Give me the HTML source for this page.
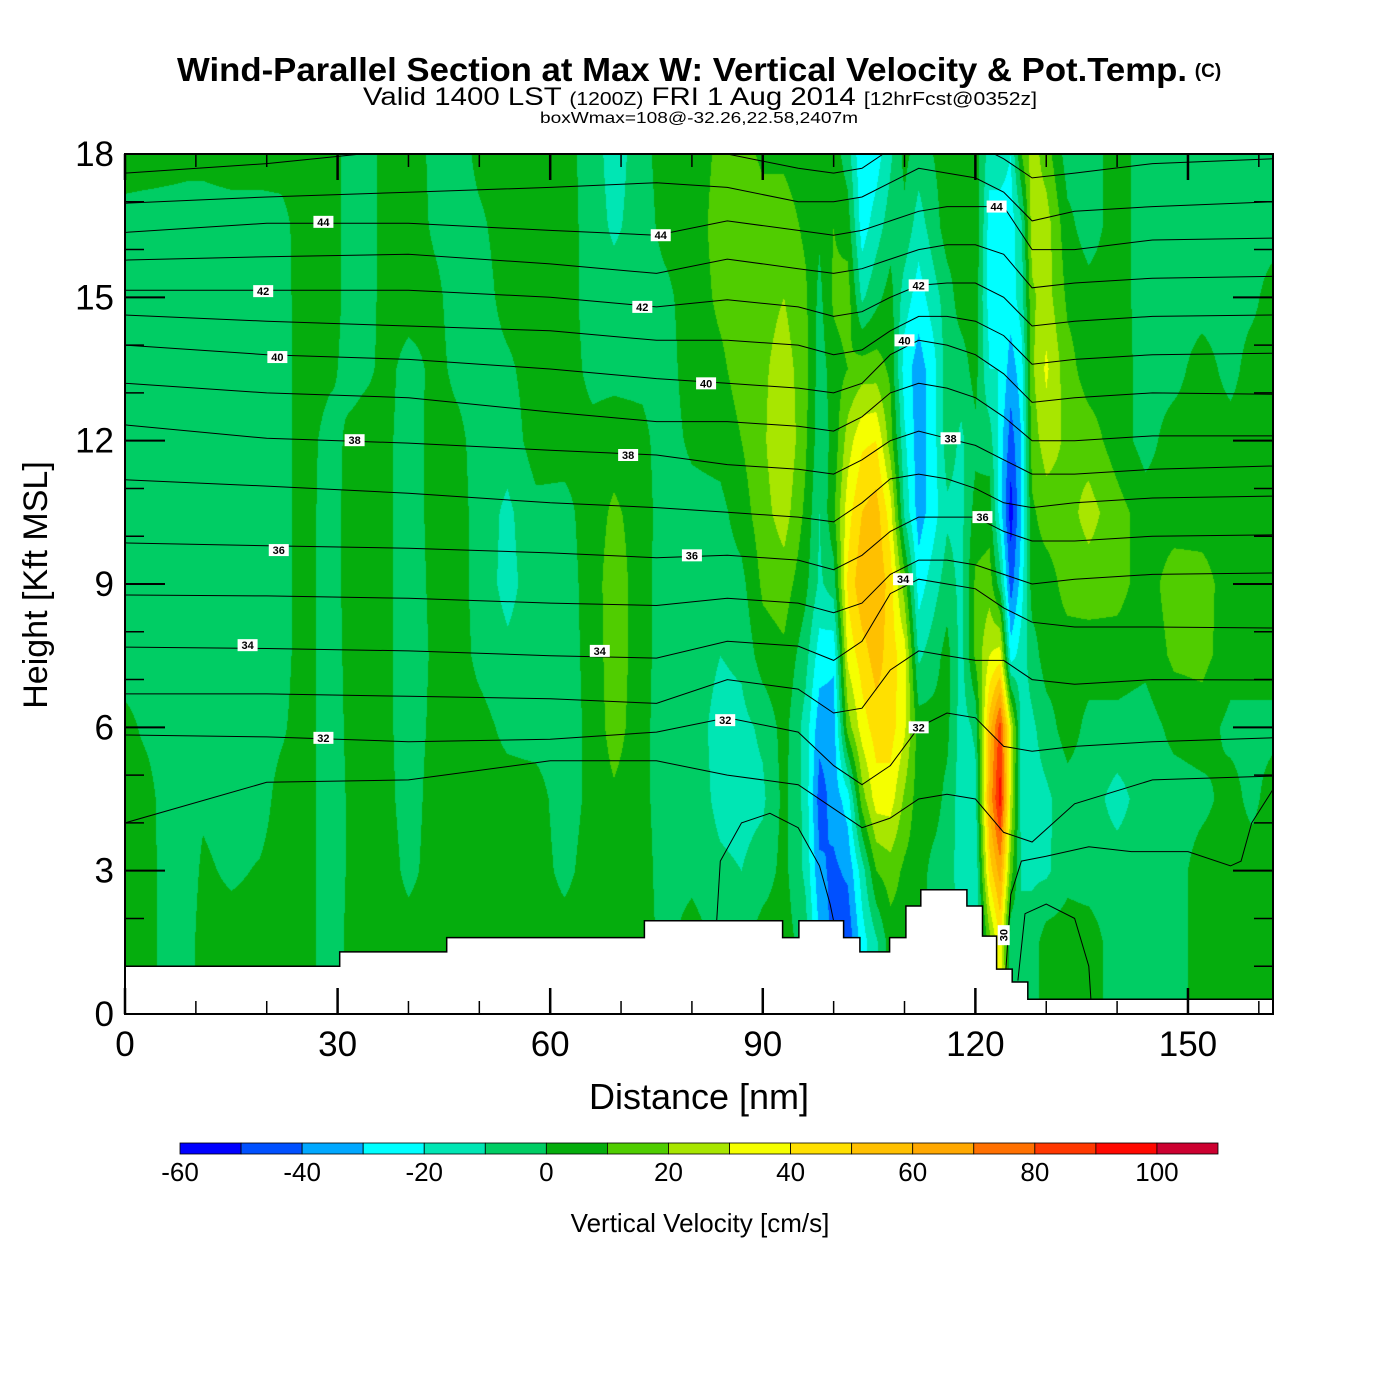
<!DOCTYPE html>
<html><head><meta charset="utf-8"><style>
html,body{margin:0;padding:0;background:#fff;}
#wrap{position:relative;width:1400px;height:1400px;overflow:hidden;background:#fff;}
#field{position:absolute;left:125px;top:154px;}
#ov{position:absolute;left:0;top:0;}
text{font-family:"Liberation Sans",Arial,sans-serif;}
</style></head><body>
<div id="wrap">
<canvas id="field" width="1148" height="860"></canvas>
<svg id="ov" width="1400" height="1400" xmlns="http://www.w3.org/2000/svg">
<text x="682" y="81" font-size="33" font-weight="bold" text-anchor="middle" textLength="1010" lengthAdjust="spacingAndGlyphs">Wind-Parallel Section at Max W: Vertical Velocity &amp; Pot.Temp.</text>
<text x="1208" y="77" font-size="19" font-weight="bold" text-anchor="middle">(C)</text>
<text x="700" y="105" font-size="25" text-anchor="middle" textLength="674" lengthAdjust="spacingAndGlyphs">Valid 1400 LST <tspan font-size="18">(1200Z)</tspan> FRI 1 Aug 2014 <tspan font-size="18">[12hrFcst@0352z]</tspan></text>
<text x="699" y="123" font-size="16" text-anchor="middle" textLength="318" lengthAdjust="spacingAndGlyphs">boxWmax=108@-32.26,22.58,2407m</text>
<defs><clipPath id="plotClip"><rect x="125" y="154" width="1148" height="860"/></clipPath></defs>
<g id="contours" clip-path="url(#plotClip)"></g>
<g id="terrain"></g>
<g id="clabels"></g>
<g id="ticks"></g>
<rect x="125" y="154" width="1148" height="860" fill="none" stroke="#000" stroke-width="2"/>
<g id="xlabels"></g>
<g id="ylabels"></g>
<text x="699" y="1109" font-size="36" text-anchor="middle">Distance [nm]</text>
<text transform="translate(47,585) rotate(-90)" font-size="34" text-anchor="middle">Height [Kft MSL]</text>
<g id="cbar"></g>
<text x="700" y="1232" font-size="26" text-anchor="middle">Vertical Velocity [cm/s]</text>
</svg>
</div>
<script>
// ---- data ----
const xNm = [0,3,6,9,11,15,19,22,25,29,32,34,37,40,44,47,50,54,58,62,66,69,73,76,80,84,87,90,93,96,98,100,102,104,106,108,110,112,114,116,118,120,122,123.5,125,126.5,128,130,133,136,140,144,148,152,156,159,162];
const yKft = [0,1.5,3,4.5,6,7.5,9,10.5,12,13.5,15,16.5,18];
const wField = [
[5,5,5,5,3,-5,-5,-5,-5,-5,-5,-4,5],
[5,5,5,4,-2,-5,-5,-5,-5,-5,-5,-5,5],
[-5,-5,-5,-5,-5,-5,-5,-5,-5,-5,-5,-5,4],
[-3,-4,-5,-5,-5,-5,-5,-5,-5,-5,-5,-5,3],
[5,5,2,-2,-5,-5,-5,-5,-5,-5,-5,-5,3],
[5,5,-2,-5,-5,-5,-5,-5,-5,-5,-5,-5,5],
[5,5,1,-5,-5,-5,-5,-5,-5,-5,-5,-5,5],
[5,5,5,4,-2,-5,-5,-5,-5,-5,-5,-4,5],
[5,5,5,5,5,5,5,5,5,5,5,5,5],
[-5,-5,-5,-5,-5,-5,-5,-5,-4,2,5,5,5],
[3,3,2,2,3,4,5,5,3,-4,-5,-5,-5],
[5,5,5,5,5,5,5,5,5,-2,-5,-5,-5],
[5,5,5,3,2,2,2,2,2,3,5,5,5],
[5,5,-3,-5,-5,-5,-5,-5,-5,-4,5,5,5],
[5,5,5,5,3,2,3,4,4,3,2,-2,-3],
[5,5,5,5,5,5,5,5,3,-3,-5,-5,-5],
[5,5,5,5,4,-3,-5,-5,-5,-5,-5,-2,3],
[5,5,5,5,-3,-8,-13,-12,-6,-2,4,5,5],
[5,5,5,4,-4,-5,-5,-3,5,5,5,5,5],
[5,5,-3,-5,-5,-5,-5,-3,4,5,5,5,4],
[5,5,5,3,3,4,5,5,3,-3,-5,-5,-5],
[5,5,5,8,15,16,16,12,5,-3,-5,-12,-15],
[5,5,5,3,3,4,4,5,3,-3,-5,-5,-4],
[5,-3,-5,-5,-5,-5,-5,-5,-5,-5,-3,3,5],
[5,5,-3,-4,-5,-4,-4,-4,2,5,5,5,5],
[5,-3,-8,-13,-14,-10,-5,-3,4,8,12,14,12],
[5,-3,-10,-14,-13,-8,-3,5,10,14,15,16,14],
[5,5,-5,-12,-8,5,12,16,18,18,16,15,8],
[5,5,3,3,4,8,15,25,30,25,20,15,8],
[-5,-5,-12,-13,-14,-6,3,8,12,14,12,8,4],
[-25,-30,-38,-45,-36,-25,-12,-10,-6,-5,-3,2,4],
[-45,-45,-42,-36,-35,-28,-5,8,3,5,12,10,5],
[-48,-48,-38,-25,15,33,42,36,25,10,15,5,-5],
[-25,-25,-15,15,35,45,58,50,38,15,-12,-25,-30],
[-12,-12,10,35,45,55,60,55,40,15,-3,-15,-25],
[5,5,15,35,45,45,45,35,15,8,4,-5,-12],
[5,5,8,18,32,35,15,-12,-18,-25,-15,-3,3],
[5,5,5,5,5,-12,-25,-35,-36,-35,-25,-15,-5],
[-5,-5,-3,5,4,-5,-15,-25,-25,-25,-15,-5,0],
[-5,-5,-5,-3,3,4,-5,-12,-5,-5,-5,5,5],
[-12,-12,-15,-15,-15,-14,-13,-13,-12,-5,5,5,5],
[-20,-20,-20,-14,-8,12,12,4,-3,4,5,10,5],
[10,15,45,62,55,30,15,5,-5,-20,-25,-25,-15],
[35,40,65,95,85,35,-5,-25,-25,-20,-25,-25,-15],
[0,-10,15,28,30,-25,-45,-55,-45,-35,-25,-25,-20],
[-5,-5,-12,-14,-14,-15,-25,-30,-30,-25,-15,-12,10],
[-5,-5,-12,-14,-12,-5,5,8,15,18,18,25,25],
[5,5,-12,-12,-5,5,5,15,25,32,25,25,15],
[5,5,-3,-5,5,5,14,16,18,14,8,3,-5],
[5,5,-5,-5,-3,5,15,24,15,5,4,-5,-5],
[-5,-5,-5,-14,-3,5,14,14,5,5,5,5,5],
[-5,-5,-5,-5,-5,3,5,5,-4,-4,-5,-5,-5],
[-5,-5,-5,-5,3,12,15,5,5,-4,-5,-5,-5],
[5,5,5,-3,5,13,14,5,5,5,-5,-5,-5],
[5,5,5,4,-3,5,5,5,5,-4,-5,-5,-5],
[5,5,5,-3,-3,5,5,5,5,5,-3,-5,-5],
[5,5,5,5,-3,5,5,5,5,5,5,-5,-5]
];
const binColors = ["#0000ff","#0050ff","#00a8ff","#00ffff","#00e6b4","#00cd64","#05ad0d","#50cd00","#a8e600","#f5ff00","#ffe000","#ffc000","#ffa800","#ff7000","#ff3800","#ff0800","#cc0030"];
const binEdges = [-60,-50,-40,-30,-20,-10,0,10,20,30,40,50,60,70,80,90,100,110];
const cbarLabels = [-60,-40,-20,0,20,40,60,80,100];
const xTickLabels = [0,30,60,90,120,150];
const yTickLabels = [0,3,6,9,12,15,18];
const thetaX = [0,20,40,60,75,85,95,100,104,108,112,116,120,124,128,134,145,162];
const theta46 = [17.6,17.8,18.1,18.2,18.3,18.0,17.7,17.6,17.7,18.1,18.3,18.3,18.2,17.9,17.5,17.6,17.8,17.9];
const theta45 = [16.97,17.1,17.2,17.3,17.4,17.3,17.0,17.0,17.1,17.4,17.7,17.6,17.5,17.2,16.6,16.8,16.9,17.0];
const theta44 = [16.36,16.55,16.55,16.4,16.3,16.6,16.4,16.3,16.4,16.6,16.8,16.9,16.9,16.9,16.0,16.0,16.2,16.24];
const theta43 = [15.78,15.85,15.9,15.7,15.5,15.8,15.6,15.5,15.6,15.8,16.0,16.1,16.1,15.9,15.2,15.3,15.4,15.44];
const theta42 = [15.15,15.15,15.15,15.0,14.8,14.95,14.8,14.6,14.7,15.0,15.25,15.3,15.3,15.0,14.4,14.5,14.6,14.63];
const theta41 = [14.63,14.5,14.4,14.3,14.1,14.1,14.0,13.8,13.9,14.3,14.6,14.6,14.5,14.2,13.6,13.7,13.8,13.83];
const theta40 = [14.0,13.8,13.7,13.5,13.3,13.2,13.1,13.0,13.2,13.8,14.1,14.0,13.8,13.4,12.8,12.9,13.0,12.97];
const theta39 = [13.2,13.0,12.9,12.6,12.4,12.4,12.3,12.2,12.5,13.0,13.2,13.1,12.9,12.5,12.0,12.0,12.1,12.1];
const theta38 = [12.33,12.05,11.95,11.8,11.7,11.5,11.4,11.3,11.6,12.0,12.2,12.05,11.9,11.6,11.3,11.3,11.4,11.47];
const theta37 = [11.18,11.05,10.9,10.7,10.6,10.5,10.4,10.3,10.7,11.2,11.3,11.2,11.0,10.7,10.6,10.7,10.8,10.84];
const theta36 = [9.86,9.8,9.75,9.65,9.55,9.6,9.5,9.3,9.6,10.1,10.4,10.4,10.4,10.1,9.9,9.9,10.0,10.03];
const theta35 = [8.77,8.75,8.7,8.6,8.55,8.7,8.6,8.4,8.6,9.2,9.5,9.5,9.4,9.2,9.0,9.1,9.2,9.23];
const theta34 = [7.68,7.65,7.6,7.5,7.45,7.8,7.7,7.4,7.8,8.8,9.1,9.0,8.9,8.5,8.2,8.1,8.1,8.08];
const theta33 = [6.70,6.7,6.65,6.6,6.5,7.0,6.8,6.3,6.4,7.2,7.6,7.5,7.4,7.4,7.0,6.9,7.0,6.99];
const theta32 = [5.84,5.8,5.7,5.75,5.9,6.2,5.9,5.2,4.8,5.2,6.0,6.3,6.2,5.6,5.5,5.6,5.7,5.78];
const theta31 = [4.0,4.85,4.9,5.3,5.3,5.0,4.8,4.3,3.9,4.1,4.5,4.6,4.5,3.8,3.6,4.4,4.9,4.98];
const loopX = [83.5,84,87,91,95,98,99.5,100];
const loopK = [1.95,3.2,4.0,4.2,3.9,3.1,2.3,1.95];
const loop2X = [126,127,130,134,136,136.3];
const loop2K = [0.7,2.1,2.3,2.0,1.0,0.31];
const loop3X = [124.3,125,126.5,130,136,142,150,156,157.5,159,162];
const loop3K = [0.9,2.5,3.2,3.3,3.5,3.4,3.4,3.1,3.2,4.0,4.7];
const labelVals = [44,44,44,42,42,42,40,40,40,38,38,38,36,36,36,34,34,34,32,32,32,30];
const labelX = [28,75.6,123,19.5,73,112,21.5,82,110,32.4,71,116.5,21.7,80,121,17.3,67,109.8,28,84.7,112,124];
const labelK = [16.58,16.3,16.9,15.13,14.8,15.25,13.75,13.2,14.1,12.01,11.7,12.05,9.71,9.6,10.4,7.72,7.6,9.1,5.78,6.15,6.0,1.65];
const terrainEdges = [0,30.3,45.4,73.3,92.8,95.1,101.4,103.7,107.9,110.2,112.3,118.8,121,123,125.2,127.4,162];
const terrainH = [1.0,1.3,1.6,1.95,1.6,1.95,1.6,1.3,1.6,2.26,2.6,2.26,1.63,0.94,0.67,0.31];

// ---- axis functions ----
const X0=125,X1=1273,Y0=1014,Y1=154,XMAX=162,YMAX=18;
function sx(nm){return X0+nm/XMAX*(X1-X0);}
function sy(k){return Y0-k/YMAX*(Y0-Y1);}
const NS="http://www.w3.org/2000/svg";
function mk(tag,parent){const e=document.createElementNS(NS,tag);parent.appendChild(e);return e;}

// ---- field ----
function valAt(nm,k){
  let i=0; while(i<xNm.length-2 && nm>xNm[i+1]) i++;
  const t=Math.min(1,Math.max(0,(nm-xNm[i])/(xNm[i+1]-xNm[i])));
  let j=Math.min(yKft.length-2,Math.floor(k/1.5)); const u=Math.min(1,Math.max(0,(k-yKft[j])/(yKft[j+1]-yKft[j])));
  const a=wField[i][j],b=wField[i+1][j],c=wField[i][j+1],d=wField[i+1][j+1];
  return (a*(1-t)+b*t)*(1-u)+(c*(1-t)+d*t)*u;
}
function hexToRgb(h){return [parseInt(h.substr(1,2),16),parseInt(h.substr(3,2),16),parseInt(h.substr(5,2),16)];}
const rgbBins=binColors.map(hexToRgb);
(function(){
  const cv=document.getElementById('field'),ctx=cv.getContext('2d');
  const W=cv.width,H=cv.height,img=ctx.createImageData(W,H);
  for(let py=0;py<H;py++){
    const k=YMAX-(py+0.5)/H*YMAX;
    for(let px=0;px<W;px++){
      const nm=(px+0.5)/W*XMAX;
      const v=valAt(nm,k);
      let b=Math.floor((v-binEdges[0])/10); if(b<0)b=0; if(b>16)b=16;
      const c=rgbBins[b],o=(py*W+px)*4;
      img.data[o]=c[0];img.data[o+1]=c[1];img.data[o+2]=c[2];img.data[o+3]=255;
    }
  }
  ctx.putImageData(img,0,0);
})();

// ---- contours ----
const cg=document.getElementById('contours');
const thetaLines=[theta46,theta45,theta44,theta43,theta42,theta41,theta40,theta39,theta38,theta37,theta36,theta35,theta34,theta33,theta32,theta31];
thetaLines.forEach(function(arr,idx){
  const p=mk('polyline',cg);
  p.setAttribute('points',arr.map(function(k,i){return sx(thetaX[i]).toFixed(1)+','+sy(k).toFixed(1);}).join(' '));
  p.setAttribute('fill','none');p.setAttribute('stroke','#000');p.setAttribute('stroke-width','1');
  
  
});
[[loopX,loopK],[loop2X,loop2K],[loop3X,loop3K]].forEach(function(pr,idx){
  const p=mk('polyline',cg);
  p.setAttribute('points',pr[0].map(function(x,i){return sx(x).toFixed(1)+','+sy(pr[1][i]).toFixed(1);}).join(' '));
  p.setAttribute('fill','none');p.setAttribute('stroke','#000');p.setAttribute('stroke-width','1');
  
  
});

// ---- terrain ----
(function(){
  const tg=document.getElementById('terrain');
  let pts=[[sx(0),sy(0)]];
  for(let i=0;i<terrainH.length;i++){pts.push([sx(terrainEdges[i]),sy(terrainH[i])]);pts.push([sx(terrainEdges[i+1]),sy(terrainH[i])]);}
  pts.push([sx(XMAX),sy(0)]);
  const p=mk('polygon',tg);
  p.setAttribute('points',pts.map(function(q){return q[0].toFixed(1)+','+q[1].toFixed(1);}).join(' '));
  p.setAttribute('fill','#fff');p.setAttribute('stroke','#000');p.setAttribute('stroke-width','1.5');
  
  
})();

// ---- contour labels ----
(function(){
  const lg=document.getElementById('clabels');
  labelVals.forEach(function(v,i){
    const g=mk('g',lg);
    
    
    const x=sx(labelX[i]),y=sy(labelK[i]);
    if(v===30) g.setAttribute('transform','translate('+x+','+y+') rotate(-90)');
    else g.setAttribute('transform','translate('+x+','+y+')');
    const r=mk('rect',g);r.setAttribute('x',-10);r.setAttribute('y',-6);r.setAttribute('width',20);r.setAttribute('height',12);r.setAttribute('fill','#fff');
    const t=mk('text',g);t.setAttribute('x',0);t.setAttribute('y',4);t.setAttribute('font-size','11');t.setAttribute('font-weight','bold');t.setAttribute('text-anchor','middle');t.textContent=v;
  });
})();

// ---- ticks ----
(function(){
  const tg=document.getElementById('ticks');
  function ln(x1,y1,x2,y2,w,name){const l=mk('line',tg);l.setAttribute('x1',x1);l.setAttribute('y1',y1);l.setAttribute('x2',x2);l.setAttribute('y2',y2);l.setAttribute('stroke','#000');l.setAttribute('stroke-width',w);
    
    }
  for(let v=0;v<=160;v+=10){const maj=v%30===0,L=maj?26:13,x=sx(v);ln(x,Y0,x,Y0-L,maj?2.5:1.5,'x-tick');ln(x,Y1,x,Y1+L,maj?2.5:1.5,'x-tick-top');}
  for(let k=1;k<18;k++){const maj=k%3===0,L=maj?40:19,y=sy(k);ln(X0,y,X0+L,y,maj?2:1.5,'y-tick');ln(X1,y,X1-L,y,maj?2:1.5,'y-tick-right');}
  const xl=document.getElementById('xlabels');
  xTickLabels.forEach(function(v){const t=mk('text',xl);t.setAttribute('x',sx(v));t.setAttribute('y',1056);t.setAttribute('font-size','35');t.setAttribute('text-anchor','middle');t.textContent=v;
    
    });
  const yl=document.getElementById('ylabels');
  yTickLabels.forEach(function(v){const t=mk('text',yl);t.setAttribute('x',114);t.setAttribute('y',sy(v)+12);t.setAttribute('font-size','35');t.setAttribute('text-anchor','end');t.textContent=v;
    
    });
})();

// ---- colorbar ----
(function(){
  const cb=document.getElementById('cbar');
  const cx0=180,cx1=1218,cy=1143,ch=11,bw=(cx1-cx0)/binColors.length;
  function cxv(v){return cx0+(v-binEdges[0])/(binEdges[binEdges.length-1]-binEdges[0])*(cx1-cx0);}
  binColors.forEach(function(c,i){const r=mk('rect',cb);r.setAttribute('x',cxv(binEdges[i]));r.setAttribute('y',cy);r.setAttribute('width',bw);r.setAttribute('height',ch);r.setAttribute('fill',c);r.setAttribute('stroke','#000');r.setAttribute('stroke-width','0.8');
    
    });
  cbarLabels.forEach(function(v){const t=mk('text',cb);t.setAttribute('x',cxv(v));t.setAttribute('y',1181);t.setAttribute('font-size','26');t.setAttribute('text-anchor','middle');t.textContent=v;
    
    });
})();
</script>
</body></html>
